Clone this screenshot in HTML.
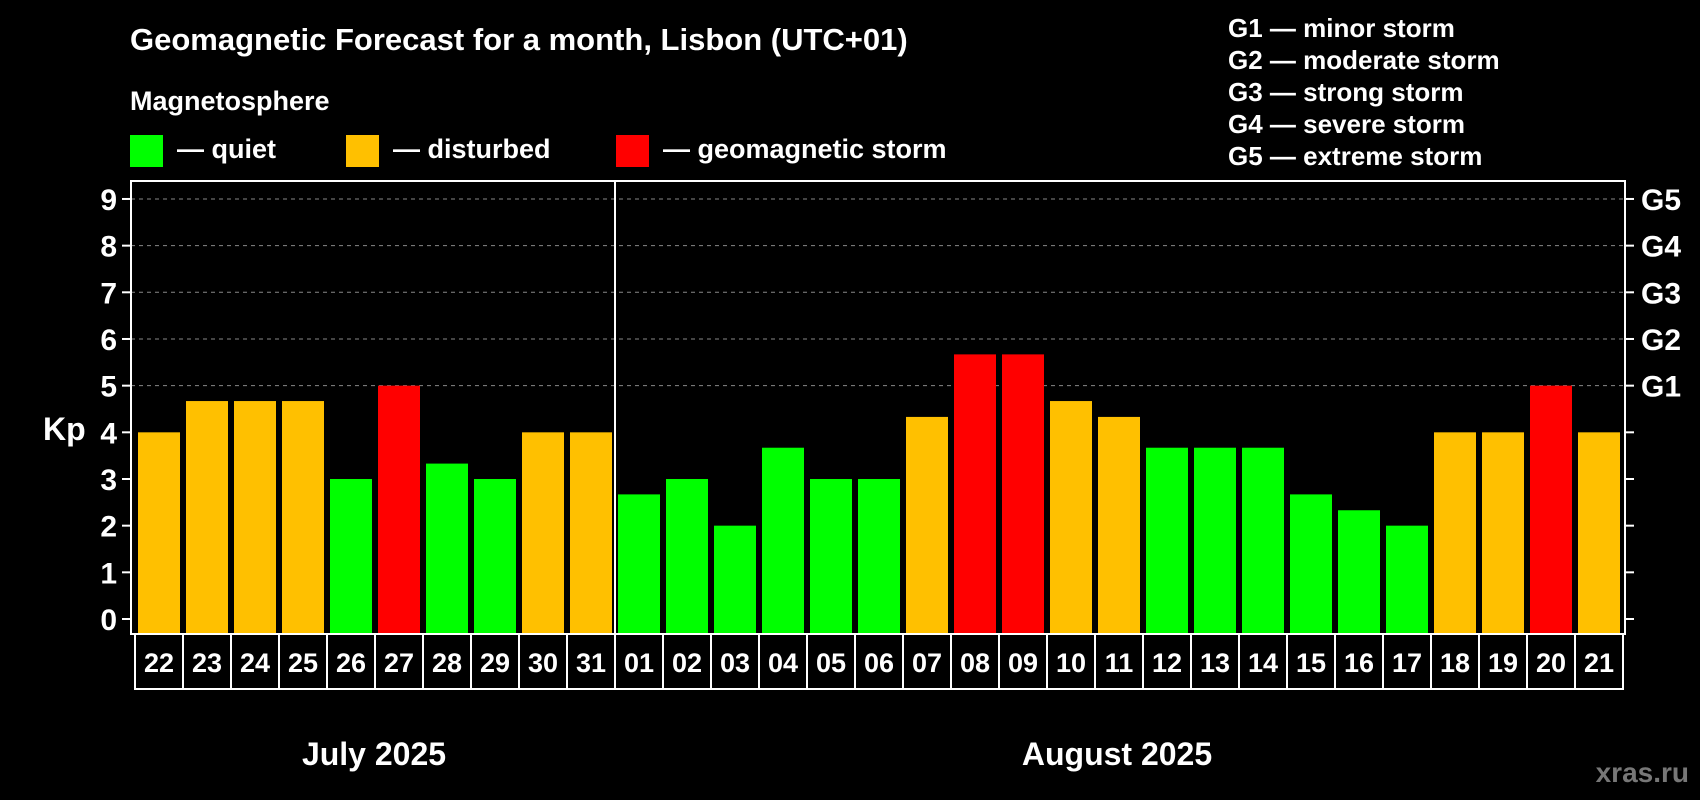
<!DOCTYPE html>
<html><head><meta charset="utf-8"><style>
html,body{margin:0;padding:0;background:#000;}
svg{display:block;font-family:"Liberation Sans",Arial,sans-serif;font-weight:bold;}
</style></head><body>
<svg id="chart" width="1700" height="800" viewBox="0 0 1700 800" xmlns="http://www.w3.org/2000/svg">
<rect width="1700" height="800" fill="#000"/>
<text x="130" y="50" fill="#fff" font-size="31">Geomagnetic Forecast for a month, Lisbon (UTC+01)</text>
<text x="130" y="110" fill="#fff" font-size="27">Magnetosphere</text>
<g><rect x="130" y="135" width="33" height="32" fill="#00ff00"/><text x="177" y="158" fill="#fff" font-size="27">— quiet</text></g>
<g><rect x="346" y="135" width="33" height="32" fill="#ffc000"/><text x="393" y="158" fill="#fff" font-size="27">— disturbed</text></g>
<g><rect x="616" y="135" width="33" height="32" fill="#ff0000"/><text x="663" y="158" fill="#fff" font-size="27">— geomagnetic storm</text></g>
<g fill="#fff" font-size="26">
<text x="1228" y="37">G1 — minor storm</text>
<text x="1228" y="69">G2 — moderate storm</text>
<text x="1228" y="101">G3 — strong storm</text>
<text x="1228" y="133">G4 — severe storm</text>
<text x="1228" y="165">G5 — extreme storm</text>
</g>
<text x="43" y="440" fill="#fff" font-size="32">Kp</text>
<g id="grid"></g><g id="bars"></g><g id="axes"></g>
<text x="374" y="765" fill="#fff" font-size="32" text-anchor="middle">July 2025</text>
<text x="1117" y="765" fill="#fff" font-size="32" text-anchor="middle">August 2025</text>
<text x="1689" y="782" fill="#777" font-size="28" text-anchor="end">xras.ru</text>
</svg>
<script>
const days=["22","23","24","25","26","27","28","29","30","31","01","02","03","04","05","06","07","08","09","10","11","12","13","14","15","16","17","18","19","20","21"];
const kpValues=[4,4.67,4.67,4.67,3,5,3.33,3,4,4,2.67,3,2,3.67,3,3,4.33,5.67,5.67,4.67,4.33,3.67,3.67,3.67,2.67,2.33,2,4,4,5,4];
const yTicks=["0","1","2","3","4","5","6","7","8","9"];
const gLabels=["G1","G2","G3","G4","G5"];
(function(){
const NS="http://www.w3.org/2000/svg";
const pL=131,pR=1625,pT=181,pB=634,y0=619,unit=46.67,x0=138,pitch=48,bw=42;
const y=v=>y0-v*unit;
const x=i=>x0+i*pitch;
function mk(tag,a,p){const e=document.createElementNS(NS,tag);for(const k in a)e.setAttribute(k,a[k]);p.appendChild(e);return e;}
const grid=document.getElementById('grid'),bars=document.getElementById('bars'),axes=document.getElementById('axes');
for(let v=5;v<=9;v++){const l=mk('line',{x1:pL,x2:pR,y1:y(v),y2:y(v),stroke:'#888','stroke-dasharray':'4,4','stroke-width':1},grid);

}
kpValues.forEach((v,i)=>{const c=v>=5?'#ff0000':(v>=4?'#ffc000':'#00ff00');
const r=mk('rect',{x:x(i),y:y(v),width:bw,height:pB-y(v),fill:c},bars);


const b=mk('rect',{x:x(i)-3,y:pB,width:pitch,height:55,fill:'none',stroke:'#fff','stroke-width':2},axes);


const t=mk('text',{x:x(i)+bw/2,y:pB+38,fill:'#fff','font-size':27,'text-anchor':'middle'},axes);t.textContent=days[i];

});
const fr=mk('rect',{x:pL,y:pT,width:pR-pL,height:pB-pT,fill:'none',stroke:'#fff','stroke-width':2},axes);


const sep=mk('line',{x1:x(10)-3,x2:x(10)-3,y1:pT,y2:pB,stroke:'#fff','stroke-width':2},axes);


yTicks.forEach((s)=>{const v=+s;
mk('line',{x1:pL-9,x2:pL,y1:y(v),y2:y(v),stroke:'#fff','stroke-width':2},axes);
mk('line',{x1:pR,x2:pR+9,y1:y(v),y2:y(v),stroke:'#fff','stroke-width':2},axes);
const t=mk('text',{x:117,y:y(v)+11,fill:'#fff','font-size':30,'text-anchor':'end'},axes);t.textContent=s;

});
gLabels.forEach((s,i)=>{const t=mk('text',{x:1641,y:y(i+5)+11,fill:'#fff','font-size':30},axes);t.textContent=s;

});
})();
</script>
</body></html>
